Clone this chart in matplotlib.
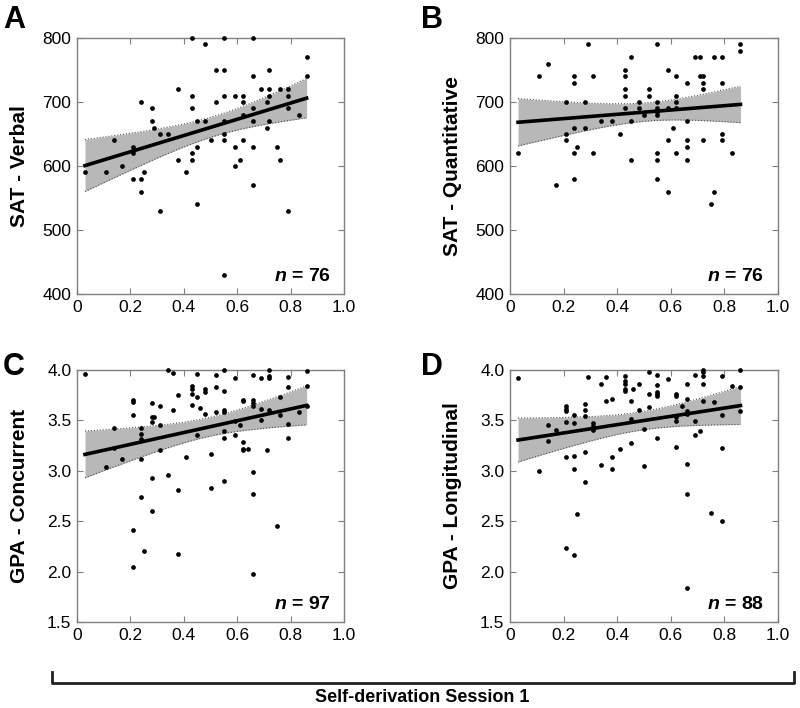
import numpy as np
import matplotlib
matplotlib.use('Agg')
import matplotlib.pyplot as plt
from matplotlib.lines import Line2D

plt.rcParams['font.family'] = ['Liberation Sans', 'DejaVu Sans']
plt.rcParams['mathtext.fontset'] = 'custom'
plt.rcParams['mathtext.it'] = 'Liberation Sans:italic:bold'

# ── data ────────────────────────────────────────────────────
# A: SAT verbal
sat_v_x = [0.03, 0.11, 0.14, 0.17, 0.21, 0.21, 0.21, 0.24, 0.24, 0.24, 0.25, 0.28, 0.28, 0.29,
           0.31, 0.31, 0.34, 0.38, 0.38, 0.41, 0.43, 0.43, 0.43, 0.43, 0.43, 0.45, 0.45, 0.45,
           0.48, 0.48, 0.50, 0.52, 0.52, 0.55, 0.55, 0.55, 0.55, 0.55, 0.55, 0.55, 0.59, 0.59,
           0.59, 0.61, 0.62, 0.62, 0.62, 0.62, 0.66, 0.66, 0.66, 0.66, 0.66, 0.66, 0.69, 0.71,
           0.71, 0.72, 0.72, 0.72, 0.72, 0.75, 0.76, 0.76, 0.79, 0.79, 0.79, 0.79, 0.83, 0.86,
           0.86]
sat_v_y = [590, 590, 640, 600, 630, 620, 580, 700, 580, 560, 590, 690, 670, 660,
           650, 530, 650, 720, 610, 590, 800, 710, 690, 620, 610, 670, 630, 540,
           790, 670, 640, 750, 700, 800, 750, 710, 670, 650, 640, 430, 710, 630,
           600, 610, 710, 700, 680, 640, 800, 740, 690, 670, 630, 570, 720, 700,
           660, 750, 720, 710, 670, 630, 720, 610, 720, 710, 690, 530, 680, 770,
           740]

# B: SAT quantitative
sat_q_x = [0.03, 0.11, 0.14, 0.17, 0.21, 0.21, 0.21, 0.24, 0.24, 0.24, 0.24, 0.24, 0.25, 0.28,
           0.28, 0.29, 0.31, 0.31, 0.34, 0.38, 0.41, 0.43, 0.43, 0.43, 0.43, 0.43, 0.45, 0.45,
           0.45, 0.48, 0.48, 0.50, 0.52, 0.52, 0.55, 0.55, 0.55, 0.55, 0.55, 0.55, 0.55, 0.55,
           0.59, 0.59, 0.59, 0.59, 0.61, 0.62, 0.62, 0.62, 0.62, 0.62, 0.66, 0.66, 0.66, 0.66,
           0.66, 0.69, 0.71, 0.71, 0.72, 0.72, 0.72, 0.72, 0.75, 0.76, 0.76, 0.79, 0.79, 0.79,
           0.79, 0.83, 0.86, 0.86]
sat_q_y = [620, 740, 760, 570, 700, 650, 640, 740, 730, 660, 620, 580, 630, 700,
           660, 790, 740, 620, 670, 670, 650, 750, 740, 720, 710, 690, 770, 670,
           610, 700, 690, 680, 720, 710, 790, 700, 690, 685, 680, 620, 610, 580,
           750, 690, 640, 560, 660, 740, 710, 700, 690, 620, 730, 670, 640, 630,
           610, 770, 770, 740, 740, 730, 720, 640, 540, 770, 560, 770, 730, 650,
           640, 620, 790, 780]

# C: GPA concurrent
gpa_c_x = [0.03, 0.11, 0.14, 0.14, 0.17, 0.21, 0.21, 0.21, 0.21, 0.21, 0.24, 0.24, 0.24, 0.24,
           0.24, 0.25, 0.28, 0.28, 0.28, 0.28, 0.28, 0.29, 0.31, 0.31, 0.31, 0.34, 0.34, 0.36,
           0.36, 0.38, 0.38, 0.38, 0.41, 0.43, 0.43, 0.43, 0.43, 0.45, 0.45, 0.45, 0.46, 0.48,
           0.48, 0.48, 0.50, 0.50, 0.52, 0.52, 0.52, 0.55, 0.55, 0.55, 0.55, 0.55, 0.55, 0.55,
           0.59, 0.59, 0.59, 0.61, 0.62, 0.62, 0.62, 0.62, 0.62, 0.64, 0.66, 0.66, 0.66, 0.66,
           0.66, 0.66, 0.66, 0.69, 0.69, 0.69, 0.71, 0.72, 0.72, 0.72, 0.72, 0.75, 0.76, 0.76,
           0.79, 0.79, 0.79, 0.79, 0.83, 0.86, 0.86, 0.86]
gpa_c_y = [3.96, 3.04, 3.42, 3.23, 3.12, 3.70, 3.68, 3.55, 2.41, 2.05, 3.42, 3.37, 3.32, 3.12,
           2.74, 2.20, 3.67, 3.53, 3.48, 2.93, 2.60, 3.53, 3.64, 3.45, 3.21, 4.00, 2.96, 3.97,
           3.60, 3.75, 2.81, 2.17, 3.14, 3.84, 3.81, 3.76, 3.65, 3.96, 3.73, 3.36, 3.62, 3.81,
           3.78, 3.56, 3.17, 2.83, 3.95, 3.83, 3.58, 4.00, 3.79, 3.60, 3.58, 3.39, 3.33, 2.90,
           3.92, 3.49, 3.36, 3.45, 3.70, 3.69, 3.29, 3.22, 3.21, 3.22, 3.95, 3.70, 3.67, 3.64,
           2.99, 2.77, 1.98, 3.92, 3.61, 3.50, 3.21, 4.00, 3.94, 3.92, 3.60, 2.45, 3.73, 3.55,
           3.93, 3.83, 3.46, 3.33, 3.58, 3.99, 3.84, 3.64]

# D: GPA longitudinal
gpa_l_x = [0.03, 0.11, 0.14, 0.14, 0.17, 0.21, 0.21, 0.21, 0.21, 0.21, 0.21, 0.24, 0.24, 0.24,
           0.24, 0.24, 0.25, 0.28, 0.28, 0.28, 0.28, 0.28, 0.29, 0.31, 0.31, 0.31, 0.34, 0.34,
           0.36, 0.36, 0.38, 0.38, 0.38, 0.41, 0.43, 0.43, 0.43, 0.43, 0.43, 0.45, 0.45, 0.45,
           0.46, 0.48, 0.48, 0.50, 0.50, 0.52, 0.52, 0.52, 0.55, 0.55, 0.55, 0.55, 0.55, 0.55,
           0.59, 0.62, 0.62, 0.62, 0.62, 0.62, 0.64, 0.66, 0.66, 0.66, 0.66, 0.66, 0.66, 0.66,
           0.69, 0.69, 0.69, 0.71, 0.72, 0.72, 0.72, 0.72, 0.72, 0.75, 0.76, 0.79, 0.79, 0.79,
           0.79, 0.83, 0.86, 0.86, 0.86]
gpa_l_y = [3.92, 3.00, 3.45, 3.30, 3.40, 3.64, 3.61, 3.59, 3.48, 3.14, 2.23, 3.55, 3.47, 3.15,
           3.02, 2.16, 2.57, 3.66, 3.60, 3.54, 3.19, 2.89, 3.93, 3.47, 3.44, 3.40, 3.86, 3.06,
           3.93, 3.69, 3.71, 3.14, 3.02, 3.22, 3.94, 3.89, 3.86, 3.81, 3.79, 3.69, 3.51, 3.28,
           3.81, 3.86, 3.60, 3.41, 3.05, 3.98, 3.76, 3.63, 3.95, 3.85, 3.78, 3.76, 3.74, 3.33,
           3.91, 3.76, 3.74, 3.53, 3.49, 3.24, 3.64, 3.86, 3.71, 3.59, 3.56, 3.07, 2.77, 1.84,
           3.95, 3.49, 3.36, 3.39, 4.00, 3.98, 3.94, 3.86, 3.69, 2.58, 3.68, 3.94, 3.55, 3.23,
           2.50, 3.84, 4.00, 3.83, 3.59]

panel_letters = ['A', 'B', 'C', 'D']
y_labels = ['SAT - Verbal', 'SAT - Quantitative', 'GPA - Concurrent', 'GPA - Longitudinal']
n_labels = ['76', '76', '97', '88']
x_ticks = [0, 0.2, 0.4, 0.6, 0.8, 1.0]
x_tick_labels = ['0', '0.2', '0.4', '0.6', '0.8', '1.0']
sat_ticks = [400, 500, 600, 700, 800]
gpa_ticks = [1.5, 2.0, 2.5, 3.0, 3.5, 4.0]
bottom_label = 'Self-derivation Session 1'

# ── layout (pixels of an 800x708 canvas) ───────────────────
W, H = 800, 708
fig = plt.figure(figsize=(W / 100, H / 100), dpi=100)


def px_rect(x0, y0, x1, y1):
    return [x0 / W, 1 - y1 / H, (x1 - x0) / W, (y1 - y0) / H]


rects = [px_rect(77, 38, 344, 294), px_rect(510, 38, 778, 294),
         px_rect(77, 370, 344, 622), px_rect(510, 370, 778, 622)]
letter_pos = [(3, 5), (421, 5), (3, 352), (421, 352)]

datasets = [(sat_v_x, sat_v_y), (sat_q_x, sat_q_y), (gpa_c_x, gpa_c_y), (gpa_l_x, gpa_l_y)]
yticks = [sat_ticks, sat_ticks, gpa_ticks, gpa_ticks]
spine_col = '#808080'


def fit_band(x, y, xs, t=1.99):
    # OLS line with 95% confidence band for the mean
    x = np.asarray(x, float)
    y = np.asarray(y, float)
    b, a = np.polyfit(x, y, 1)
    resid = y - (a + b * x)
    n = len(x)
    s = np.sqrt(np.sum(resid ** 2) / (n - 2))
    sxx = np.sum((x - x.mean()) ** 2)
    se = s * np.sqrt(1 / n + (xs - x.mean()) ** 2 / sxx)
    fit = a + b * xs
    return fit, fit - t * se, fit + t * se


for i, (x, y) in enumerate(datasets):
    ax = fig.add_axes(rects[i])
    xs = np.linspace(min(x), max(x), 100)
    fit, lo, hi = fit_band(x, y, xs)
    ax.fill_between(xs, lo, hi, color='#b8b8b8', lw=0, zorder=1)
    ax.plot(xs, lo, color='#505050', lw=0.8, ls=':', zorder=2)
    ax.plot(xs, hi, color='#505050', lw=0.8, ls=':', zorder=2)
    ax.plot(xs, fit, color='black', lw=2.6, zorder=3)
    ax.plot(x, y, 'o', color='black', ms=3.4, mew=0, zorder=4, clip_on=False)

    ax.set_xlim(0, 1.0)
    ax.set_ylim(yticks[i][0], yticks[i][-1])
    ax.set_xticks(x_ticks)
    ax.set_xticklabels(x_tick_labels)
    ax.set_yticks(yticks[i])
    if i >= 2:
        ax.set_yticklabels(['%.1f' % v for v in yticks[i]])
    ax.tick_params(direction='in', top=True, right=True, length=4, width=0.8,
                   color=spine_col, labelsize=12.5, pad=4)
    for sp in ax.spines.values():
        sp.set_color(spine_col)
        sp.set_linewidth(1.0)

    ax.set_ylabel(y_labels[i], fontsize=15, fontweight='bold')
    ax.yaxis.set_label_coords(-0.18, 0.5)
    ax.text(0.95, 0.035, r'$\mathit{n}$ = ' + n_labels[i], transform=ax.transAxes,
            ha='right', va='bottom', fontsize=14, fontweight='bold')

    lx, ly = letter_pos[i]
    fig.text(lx / W, 1 - ly / H, panel_letters[i], fontsize=22, fontweight='bold',
             ha='left', va='top')

# bracket under the panels
bx0, bx1, by, btop = 52, 794, 683, 672
fig.lines.append(Line2D([bx0 / W, bx0 / W, bx1 / W, bx1 / W],
                        [1 - btop / H, 1 - by / H, 1 - by / H, 1 - btop / H],
                        transform=fig.transFigure, color='#202020', lw=2))
fig.text(422 / W, 1 - 698 / H, bottom_label, fontsize=13, fontweight='bold',
         ha='center', va='center')

fig.savefig('out.png', dpi=100)
